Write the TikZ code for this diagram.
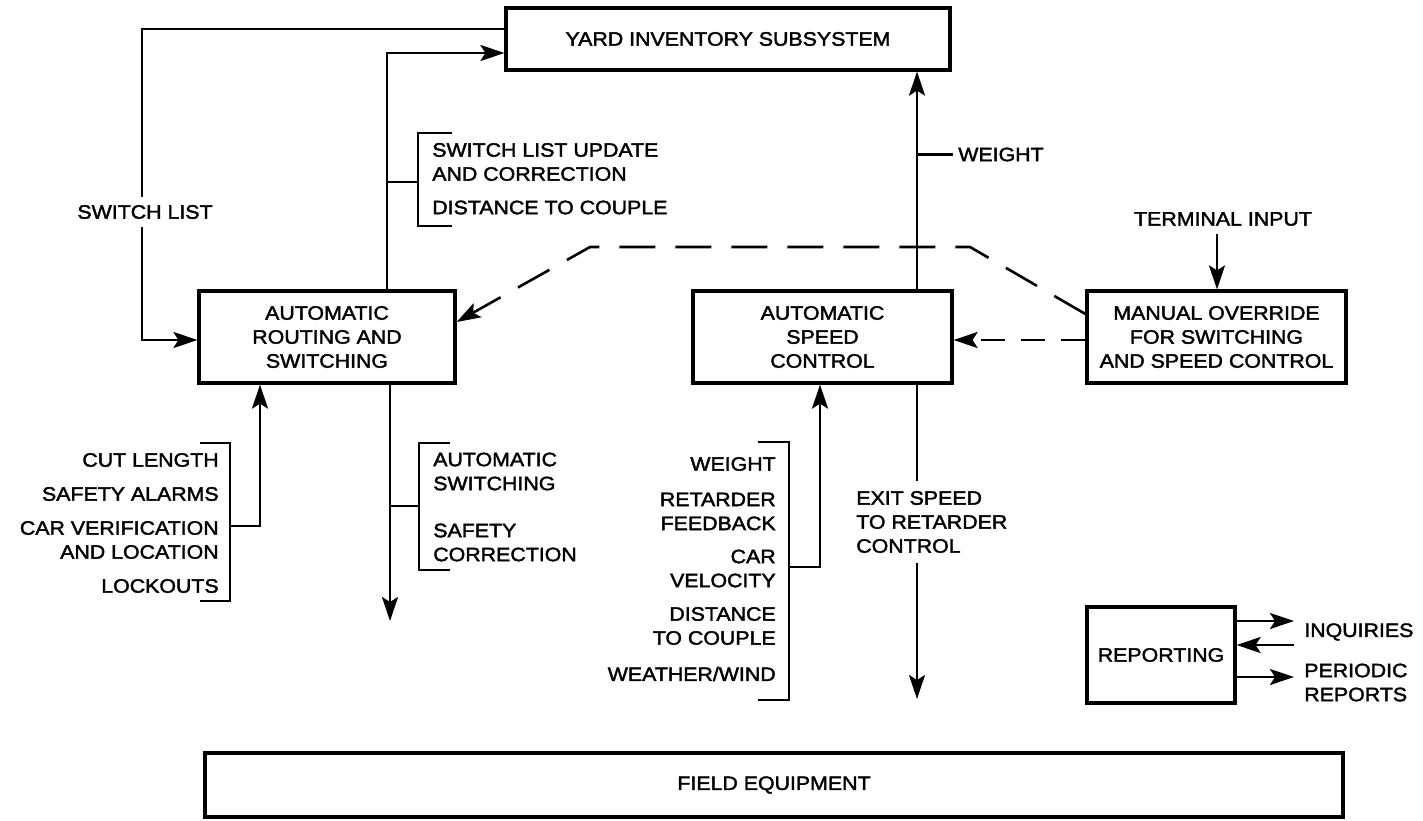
\documentclass[tikz,border=0pt]{standalone}
\usepackage{fontspec}
\setmainfont{Liberation Sans}[FakeStretch=1.1,FakeBold=2]
\usetikzlibrary{arrows.meta}
\begin{document}
\begin{tikzpicture}[x=0.5pt,y=-0.5pt,
  line width=1.3pt,
  every node/.style={font=\fontsize{9.7}{12}\selectfont},
  box/.style={draw,line width=1.6pt,align=center,inner sep=0pt},
  lbl/.style={inner sep=0pt},
  arr/.style={-{Stealth[length=12pt,width=8pt,inset=2.5pt]}},
  dsh/.style={dash pattern=on 18pt off 10pt},
  dshs/.style={dash pattern=on 12pt off 8pt}]
\useasboundingbox (0,0) rectangle (1423,820);
% boxes
\node[box,minimum width=222pt,minimum height=31pt] (yard) at (728,39) {YARD INVENTORY SUBSYSTEM};
\node[box,minimum width=128pt,minimum height=46pt] (ar) at (327,337) {AUTOMATIC\\ROUTING AND\\SWITCHING};
\node[box,minimum width=129.5pt,minimum height=46pt] (asc) at (822.5,337) {AUTOMATIC\\SPEED\\CONTROL};
\node[box,minimum width=129.5pt,minimum height=46pt] (mo) at (1216.5,337) {MANUAL OVERRIDE\\FOR SWITCHING\\AND SPEED CONTROL};
\node[box,minimum width=74pt,minimum height=48pt] (rep) at (1161,655) {REPORTING};
\node[box,minimum width=569pt,minimum height=32pt] (field) at (774,785) {FIELD EQUIPMENT};

% switch list
\coordinate (sl1) at (142,29);
\coordinate (sl2) at (142,340);
\draw[arr] (yard.west |- sl1) -- (sl1) -- (sl2) -- (ar.west |- sl2);
\node[lbl,fill=white,inner ysep=4pt] (swl) at (145,212) {SWITCH LIST};

% AR -> yard
\coordinate (ay) at (387,53);
\draw[arr] (ar.north -| ay) -- (ay) -- (yard.west |- ay);
\coordinate (b1a) at (452,133); \coordinate (b1b) at (418,133);
\coordinate (b1c) at (418,226); \coordinate (b1d) at (452,226);
\draw (b1a) -- (b1b) -- (b1c) -- (b1d);
\coordinate (s1) at (387,182);
\draw (s1) -- (b1b |- s1);
\node[lbl,anchor=west,align=left] (slu) at (431,162) {SWITCH LIST UPDATE\\AND CORRECTION};
\node[lbl,anchor=west] (dtc1) at (431,207.5) {DISTANCE TO COUPLE};

% dashed override to AR
\coordinate (d1) at (970,247);
\coordinate (d2) at (590,247);
\coordinate (d0) at (0,314);
\coordinate (d3) at (0,322);
\draw[arr,dsh] (mo.west |- d0) -- (d1) -- (d2) -- (ar.east |- d3);
% dashed override to ASC
\coordinate (d4) at (0,340);
\draw[arr,dshs] (mo.west |- d4) -- (asc.east |- d4);

% terminal input
\node[lbl] (ti) at (1223,219) {TERMINAL INPUT};
\coordinate (t1) at (1217,234);
\draw[arr] (t1) -- (mo.north -| t1);

% ASC -> yard (weight)
\coordinate (wx) at (917,154.5);
\draw[arr] (asc.north -| wx) -- (yard.south -| wx);
\draw (wx) -- (953,154.5);
\node[lbl,anchor=west] (wt) at (957,154.5) {WEIGHT};

% exit speed
\coordinate (ex) at (917,699);
\draw[arr] (asc.south -| ex) -- (ex);
\node[lbl,anchor=west,align=left,fill=white,inner ysep=5pt] (exs) at (855,522) {EXIT SPEED\\TO RETARDER\\CONTROL};

% ASC inputs
\coordinate (b3a) at (758,442); \coordinate (b3b) at (789,442);
\coordinate (b3c) at (789,700); \coordinate (b3d) at (758,700);
\draw (b3a) -- (b3b) -- (b3c) -- (b3d);
\coordinate (s3) at (820,567);
\draw[arr] (b3b |- s3) -- (s3) -- (asc.south -| s3);
\node[lbl,anchor=east] (w2) at (777,464) {WEIGHT};
\node[lbl,anchor=east,align=right] (rf) at (777,511.5) {RETARDER\\FEEDBACK};
\node[lbl,anchor=east,align=right] (cv) at (777,568.5) {CAR\\VELOCITY};
\node[lbl,anchor=east,align=right] (dtc2) at (777,626) {DISTANCE\\TO COUPLE};
\node[lbl,anchor=east] (ww) at (777,674) {WEATHER/WIND};

% AR inputs
\coordinate (b2a) at (200,443); \coordinate (b2b) at (230,443);
\coordinate (b2c) at (230,601); \coordinate (b2d) at (200,601);
\draw (b2a) -- (b2b) -- (b2c) -- (b2d);
\coordinate (s2) at (260,526);
\draw[arr] (b2b |- s2) -- (s2) -- (ar.south -| s2);
\node[lbl,anchor=east] (cl) at (220,460) {CUT LENGTH};
\node[lbl,anchor=east] (sa) at (220,494) {SAFETY ALARMS};
\node[lbl,anchor=east,align=right] (cvl) at (220,540) {CAR VERIFICATION\\AND LOCATION};
\node[lbl,anchor=east] (lo) at (220,586) {LOCKOUTS};

% AR outputs
\coordinate (ao) at (390,621);
\draw[arr] (ar.south -| ao) -- (ao);
\coordinate (b4a) at (450,443); \coordinate (b4b) at (419,443);
\coordinate (b4c) at (419,570); \coordinate (b4d) at (450,570);
\draw (b4a) -- (b4b) -- (b4c) -- (b4d);
\coordinate (s4) at (390,506);
\draw (s4) -- (b4b |- s4);
\node[lbl,anchor=west,align=left] (asw) at (432,471.5) {AUTOMATIC\\SWITCHING};
\node[lbl,anchor=west,align=left] (sc) at (432,542.5) {SAFETY\\CORRECTION};

% reporting
\coordinate (r1) at (1294,621);
\coordinate (r2) at (1294,645);
\coordinate (r3) at (1294,677);
\draw[arr] (rep.east |- r1) -- (r1);
\draw[arr] (r2) -- (rep.east |- r2);
\draw[arr] (rep.east |- r3) -- (r3);
\node[lbl,anchor=west] (inq) at (1303,632) {INQUIRIES};
\node[lbl,anchor=west,align=left] (pr) at (1303,682.5) {PERIODIC\\REPORTS};
\end{tikzpicture}
\end{document}
